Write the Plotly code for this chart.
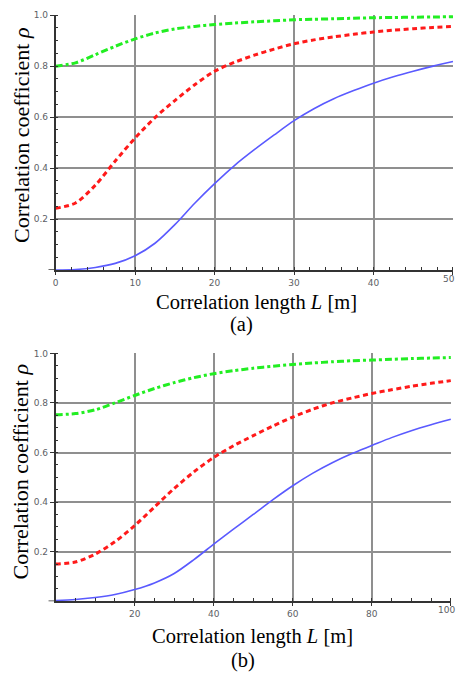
import plotly.graph_objects as go

# ---- panel (a): correlation length 0-50 m ----
L_a = [0, 2.5, 5, 7.5, 10, 12.5, 15, 17.5, 20, 22.5, 25, 27.5, 30, 32.5, 35,
       37.5, 40, 42.5, 45, 47.5, 50]
solid_a = [0.0, 0.002, 0.01, 0.026, 0.056, 0.105, 0.178, 0.262, 0.339, 0.41,
           0.472, 0.53, 0.586, 0.633, 0.672, 0.704, 0.733, 0.758, 0.78, 0.80, 0.818]
dashed_a = [0.242, 0.263, 0.333, 0.428, 0.518, 0.598, 0.665, 0.727, 0.78, 0.815,
            0.843, 0.867, 0.888, 0.903, 0.915, 0.925, 0.934, 0.941, 0.947, 0.952, 0.956]
dashdot_a = [0.80, 0.813, 0.845, 0.878, 0.907, 0.93, 0.946, 0.956, 0.963, 0.969,
             0.974, 0.978, 0.982, 0.984, 0.986, 0.988, 0.99, 0.991, 0.992, 0.993, 0.994]

# ---- panel (b): correlation length 0-100 m ----
L_b = [0, 5, 10, 15, 20, 25, 30, 35, 40, 45, 50, 55, 60, 65, 70, 75, 80, 85,
       90, 95, 100]
solid_b = [0.003, 0.007, 0.015, 0.027, 0.047, 0.074, 0.112, 0.168, 0.23, 0.291,
           0.35, 0.41, 0.466, 0.516, 0.559, 0.596, 0.628, 0.66, 0.688, 0.712, 0.734]
dashed_b = [0.15, 0.158, 0.19, 0.24, 0.305, 0.38, 0.455, 0.522, 0.58, 0.627,
            0.668, 0.707, 0.743, 0.774, 0.80, 0.82, 0.838, 0.853, 0.867, 0.879, 0.89]
dashdot_b = [0.752, 0.757, 0.772, 0.80, 0.83, 0.858, 0.882, 0.902, 0.918, 0.93,
             0.94, 0.948, 0.955, 0.961, 0.966, 0.97, 0.973, 0.976, 0.979, 0.981, 0.983]

y_ticks = [0.2, 0.4, 0.6, 0.8, 1.0]
y_ticktext = ["0.2", "0.4", "0.6", "0.8", "1.0"]
x_ticks_a = [0, 10, 20, 30, 40, 50]
x_ticks_b = [20, 40, 60, 80, 100]

W, H = 456, 673
BLUE = "#5a5aff"
RED = "#ff1a1a"
GREEN = "#22ee22"
GRID = "#8f8f8f"
AXIS = "#333333"
TICKFONT = dict(family="DejaVu Sans", size=9, color="#5d5f66")
SERIF = "Liberation Serif"

fig = go.Figure()

def add_curves(L, s, d, g, xa, ya):
    fig.add_trace(go.Scatter(x=L, y=s, mode="lines", line_shape="spline",
                             line=dict(color=BLUE, width=1.6, smoothing=0.8),
                             xaxis=xa, yaxis=ya, showlegend=False))
    fig.add_trace(go.Scatter(x=L, y=d, mode="lines", line_shape="spline",
                             line=dict(color=RED, width=3, dash="5px,3.5px",
                                       smoothing=0.8),
                             xaxis=xa, yaxis=ya, showlegend=False))
    fig.add_trace(go.Scatter(x=L, y=g, mode="lines", line_shape="spline",
                             line=dict(color=GREEN, width=3,
                                       dash="7px,3px,3px,3px", smoothing=0.8),
                             xaxis=xa, yaxis=ya, showlegend=False))

add_curves(L_a, solid_a, dashed_a, dashdot_a, "x", "y")
add_curves(L_b, solid_b, dashed_b, dashdot_b, "x2", "y2")

def xaxis_style(domain, rng, ticks, minor_dtick, anchor):
    # the last label sits on the figure edge; it is placed separately below
    text = [str(t) for t in ticks[:-1]] + [""]
    return dict(domain=domain, range=rng, anchor=anchor,
                tickmode="array", tickvals=ticks, ticktext=text,
                showgrid=True, gridcolor=GRID, gridwidth=1.5,
                showline=True, linecolor=AXIS, linewidth=1.5,
                ticks="outside", ticklen=3, tickcolor=AXIS, tickwidth=1,
                minor=dict(tickmode="linear", tick0=0, dtick=minor_dtick,
                           ticks="inside", ticklen=3, tickcolor=AXIS,
                           showgrid=False),
                zeroline=False, tickfont=TICKFONT, fixedrange=True)

def yaxis_style(domain, anchor):
    return dict(domain=domain, range=[0, 1.001], anchor=anchor,
                tickmode="array", tickvals=y_ticks, ticktext=y_ticktext,
                showgrid=True, gridcolor=GRID, gridwidth=1.5,
                showline=True, linecolor=AXIS, linewidth=1.5,
                ticks="outside", ticklen=4, tickcolor=AXIS, tickwidth=1,
                minor=dict(tickmode="linear", tick0=0, dtick=0.05,
                           ticks="inside", ticklen=3, tickcolor=AXIS,
                           showgrid=False),
                zeroline=False, tickfont=TICKFONT, fixedrange=True)

xd = [53 / W, 453.2 / W]
xd2 = [53 / W, 451 / W]
yd = [1 - 267 / H, 1 - 10 / H]
yd2 = [1 - 600.7 / H, 1 - 350.7 / H]

fig.update_layout(
    width=W, height=H,
    margin=dict(l=0, r=0, t=0, b=0),
    paper_bgcolor="white", plot_bgcolor="white",
    xaxis=xaxis_style(xd, [0, 50.03], x_ticks_a, 2, "y"),
    yaxis=yaxis_style(yd, "x"),
    xaxis2=xaxis_style(xd2, [0, 100.06], x_ticks_b, 5, "y2"),
    yaxis2=yaxis_style(yd2, "x2"),
)

# last x tick labels, right-aligned to the figure edge
for ticks, yr in ((x_ticks_a, "y domain"), (x_ticks_b, "y2 domain")):
    fig.add_annotation(text=str(ticks[-1]), x=1, y=0, xref="paper", yref=yr,
                       xanchor="right", yanchor="top", yshift=-3,
                       showarrow=False, borderpad=0, font=TICKFONT)

# short extension of each horizontal axis to the left of the origin
for xr, yr in (("x domain", "y"), ("x2 domain", "y2")):
    fig.add_shape(type="line", xref=xr, yref=yr, x0=-0.018, x1=0, y0=0, y1=0,
                  line=dict(color=AXIS, width=1.5))

def label(text, x, y, size, angle=0):
    fig.add_annotation(text=text, x=x / W, y=1 - y / H, xref="paper",
                       yref="paper", showarrow=False, textangle=angle,
                       xanchor="center", yanchor="middle",
                       font=dict(family=SERIF, size=size, color="black"))

label("Correlation coefficient <i>ρ</i>", 18, 131, 22, -90)
label("Correlation coefficient <i>ρ</i>", 18, 470, 22, -90)
label("Correlation length <i>L</i> [m]", 255, 300, 20.5)
label("Correlation length <i>L</i> [m]", 251, 636, 20.5)
label("(a)", 240, 322, 20.5)
label("(b)", 242, 660, 20.5)

fig.write_html("out.html")
